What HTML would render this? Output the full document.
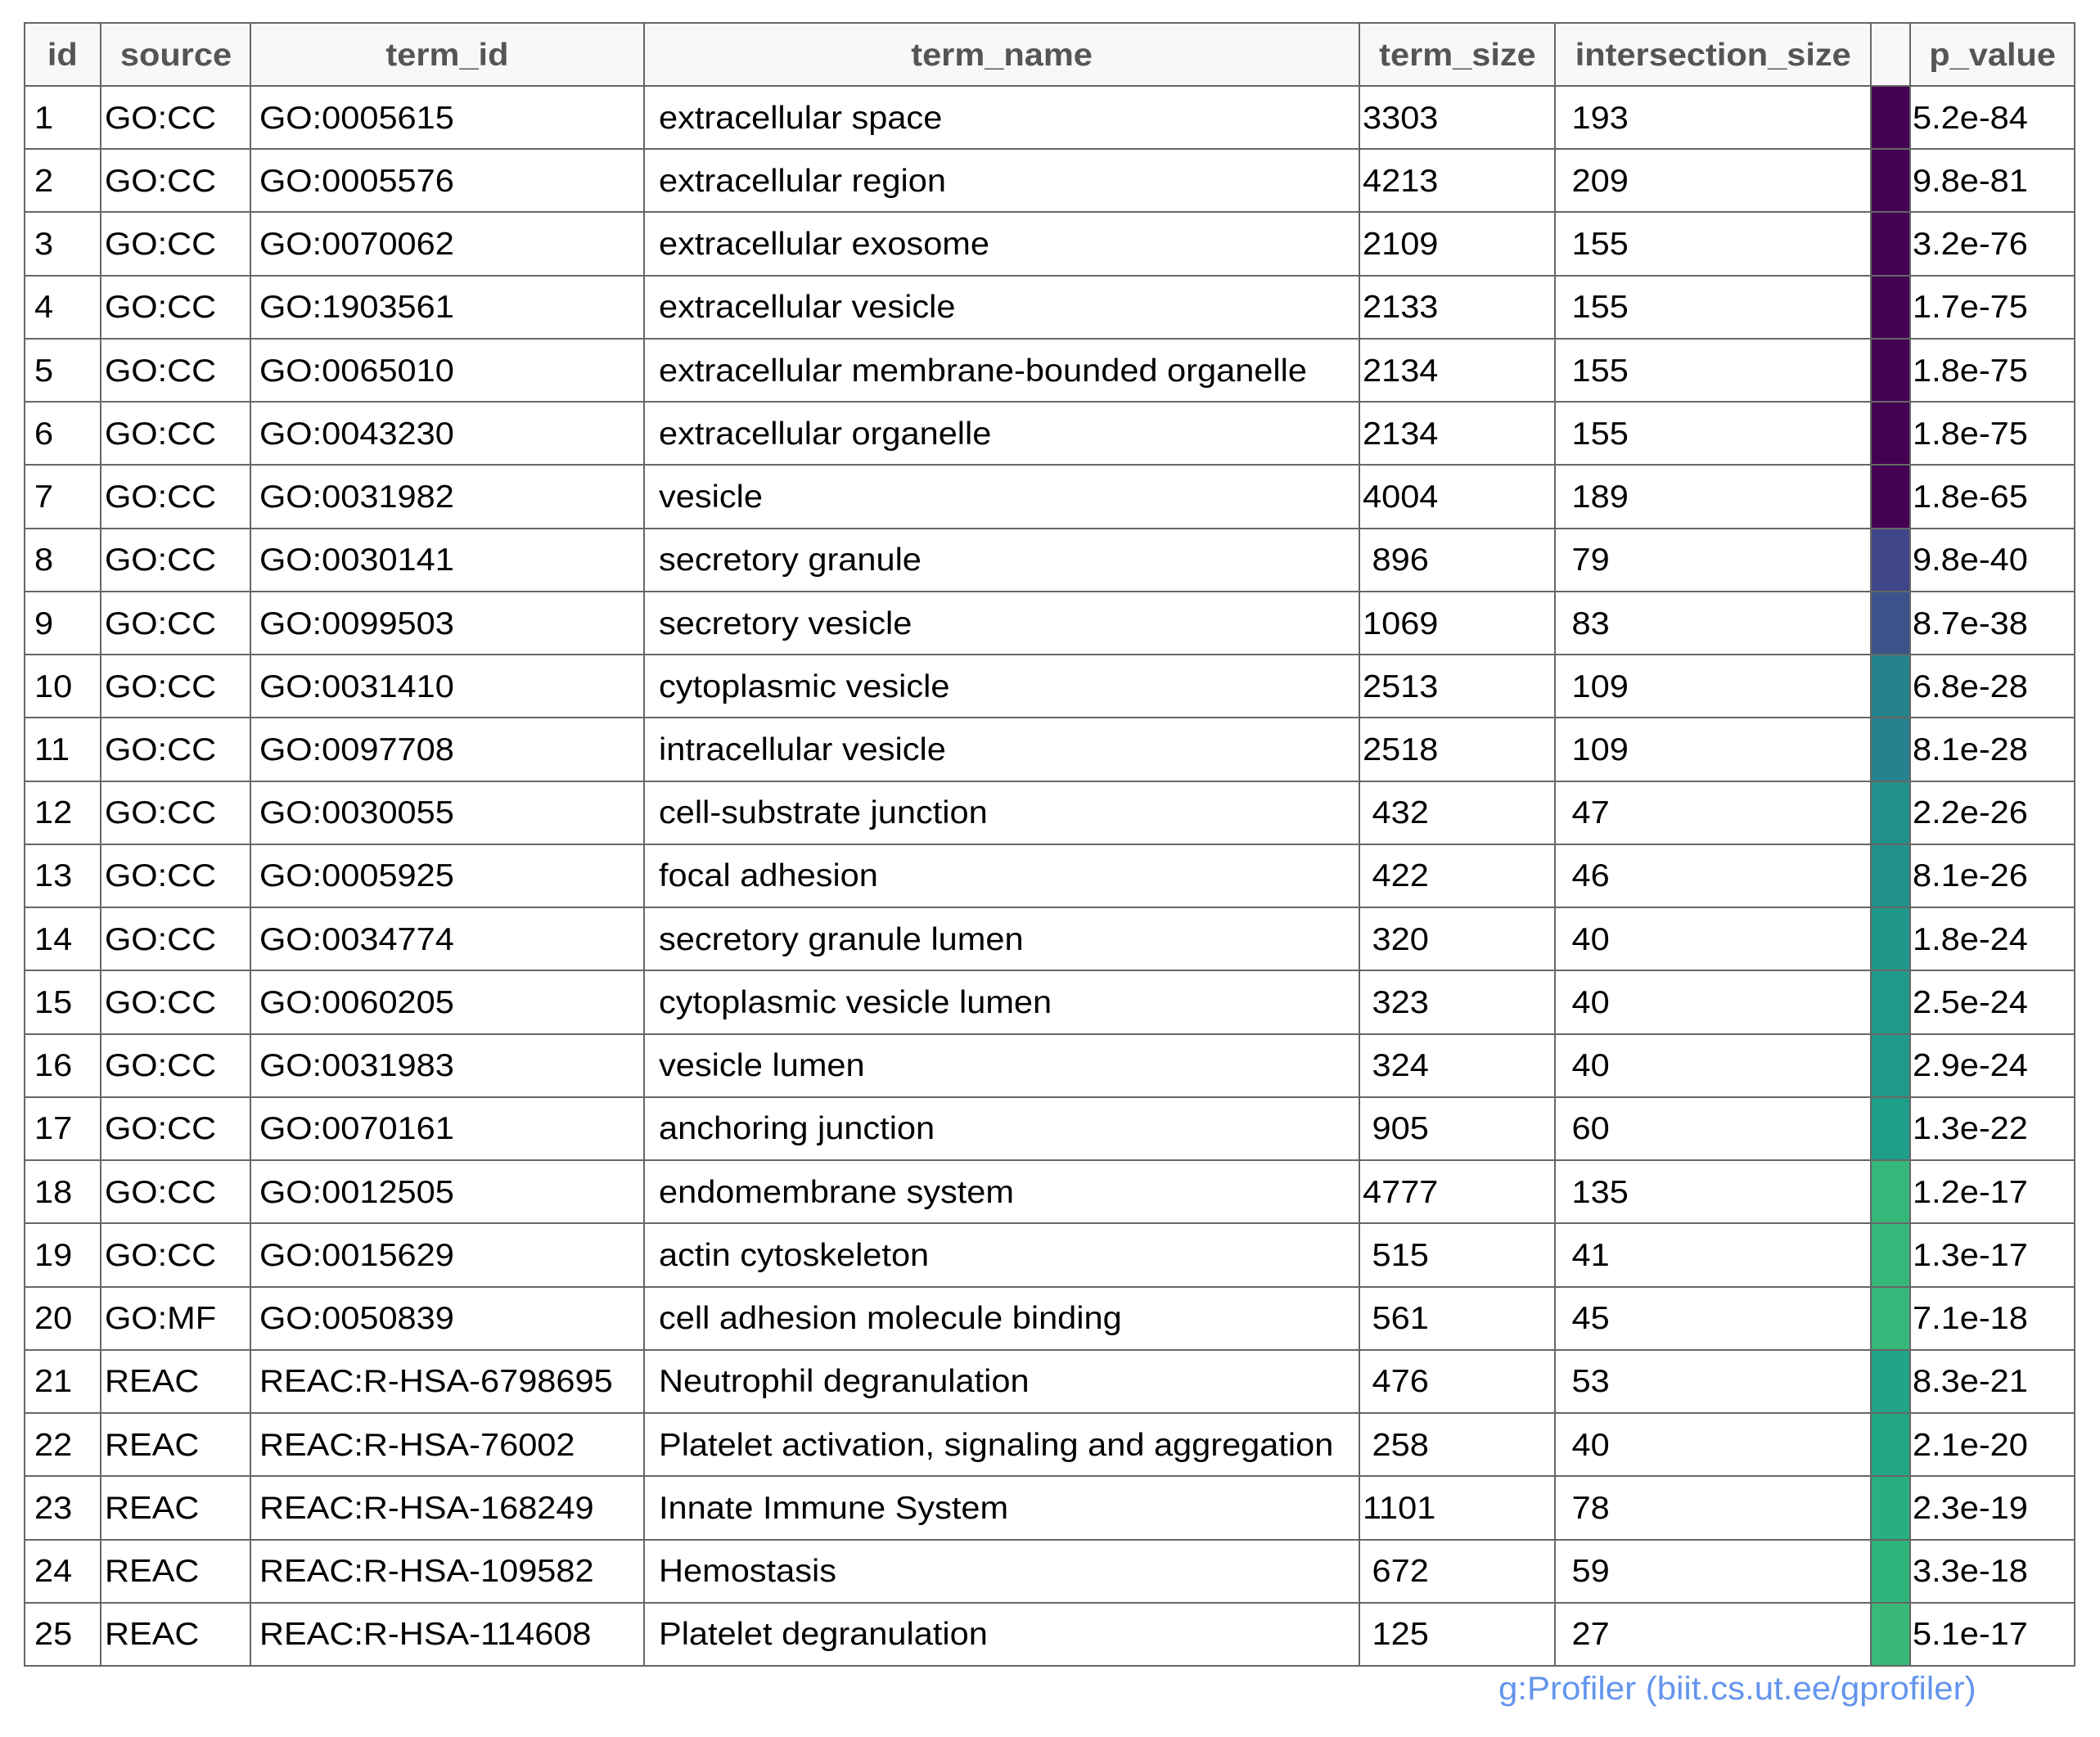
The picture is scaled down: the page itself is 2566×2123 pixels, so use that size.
<!DOCTYPE html>
<html><head><meta charset="utf-8">
<style>
html,body{margin:0;padding:0;background:#fff;}
body{width:2566px;height:2123px;position:relative;overflow:hidden;font-family:"Liberation Sans",sans-serif;}
.cell{position:absolute;box-sizing:border-box;font-size:39px;color:#000;white-space:pre;display:flex;align-items:center;overflow:visible;padding-top:2px;}
.cell span{display:inline-block;transform:scaleX(1.065);transform-origin:left center;}
.hdr{background:#f8f8f8;color:#555;font-weight:bold;justify-content:center;}
.hdr span{transform-origin:center center;}
.line{position:absolute;background:#666;}
#footer{position:absolute;left:1831px;top:2042px;font-size:40px;color:#6495ED;white-space:nowrap;transform:scaleX(1.05);transform-origin:left center;}
</style></head>
<body>
<div id="table" style="position:absolute;left:0;top:0;width:2566px;height:2123px;"></div>
<div id="footer">g:Profiler (biit.cs.ut.ee/gprofiler)</div>
<script>
const headers=["id","source","term_id","term_name","term_size","intersection_size","","p_value"];
const sources=["GO:CC","GO:CC","GO:CC","GO:CC","GO:CC","GO:CC","GO:CC","GO:CC","GO:CC","GO:CC","GO:CC","GO:CC","GO:CC","GO:CC","GO:CC","GO:CC","GO:CC","GO:CC","GO:CC","GO:MF","REAC","REAC","REAC","REAC","REAC"];
const termIds=["GO:0005615","GO:0005576","GO:0070062","GO:1903561","GO:0065010","GO:0043230","GO:0031982","GO:0030141","GO:0099503","GO:0031410","GO:0097708","GO:0030055","GO:0005925","GO:0034774","GO:0060205","GO:0031983","GO:0070161","GO:0012505","GO:0015629","GO:0050839","REAC:R-HSA-6798695","REAC:R-HSA-76002","REAC:R-HSA-168249","REAC:R-HSA-109582","REAC:R-HSA-114608"];
const termNames=["extracellular space","extracellular region","extracellular exosome","extracellular vesicle","extracellular membrane-bounded organelle","extracellular organelle","vesicle","secretory granule","secretory vesicle","cytoplasmic vesicle","intracellular vesicle","cell-substrate junction","focal adhesion","secretory granule lumen","cytoplasmic vesicle lumen","vesicle lumen","anchoring junction","endomembrane system","actin cytoskeleton","cell adhesion molecule binding","Neutrophil degranulation","Platelet activation, signaling and aggregation","Innate Immune System","Hemostasis","Platelet degranulation"];
const termSizes=[3303,4213,2109,2133,2134,2134,4004,896,1069,2513,2518,432,422,320,323,324,905,4777,515,561,476,258,1101,672,125];
const interSizes=[193,209,155,155,155,155,189,79,83,109,109,47,46,40,40,40,60,135,41,45,53,40,78,59,27];
const pValues=["5.2e-84","9.8e-81","3.2e-76","1.7e-75","1.8e-75","1.8e-75","1.8e-65","9.8e-40","8.7e-38","6.8e-28","8.1e-28","2.2e-26","8.1e-26","1.8e-24","2.5e-24","2.9e-24","1.3e-22","1.2e-17","1.3e-17","7.1e-18","8.3e-21","2.1e-20","2.3e-19","3.3e-18","5.1e-17"];
const colors=["#440154","#440154","#440154","#440154","#440154","#440154","#440154","#3f4788","#3b528b","#25838e","#26828e","#21908c","#21918c","#1f988b","#1f998a","#1f998a","#1f9e89","#35b779","#35b779","#35b779","#20a386","#22a785","#29af7f","#2fb47c","#38b977"];

const colX=[30,123,306,787,1661,1900,2286,2334,2535];
const padL=[12,5,11,18,4,9,0,3];
const top0=28, hdrH=77, rowH=77.24;
const table=document.getElementById('table');
function pad(v){const s=String(v);return s.length<4?" "+s:s;}
function mk(x0,x1,y0,h,text,cls,pl){
  const d=document.createElement('div');
  d.className='cell'+(cls?' '+cls:'');
  d.style.left=x0+'px';d.style.top=y0+'px';
  d.style.width=(x1-x0)+'px';d.style.height=h+'px';
  d.style.paddingLeft=(pl||0)+'px';
  const s=document.createElement('span');
  s.textContent=text;
  d.appendChild(s);
  table.appendChild(d);
  return d;
}
headers.forEach((h,i)=>{
  const d=mk(colX[i],colX[i+1],top0,hdrH,h,'hdr',0);
  
  
});
for(let r=0;r<25;r++){
  const y=top0+hdrH+r*rowH;
  const vals=[String(r+1),sources[r],termIds[r],termNames[r],pad(termSizes[r]),pad(interSizes[r]),"",pValues[r]];
  const names=['id','source','term-id','term-name','term-size','intersection-size','pvalue-color','p-value'];
  vals.forEach((v,i)=>{
    const d=mk(colX[i],colX[i+1],y,rowH,v,'',padL[i]);
    if(i===6){d.style.background=colors[r];}
    
    
  });
}
const bottom=top0+hdrH+25*rowH;
colX.forEach((x,i)=>{
  const l=document.createElement('div');
  l.className='line';
  
  
  l.style.left=(x-1)+'px';l.style.top=(top0-1)+'px';l.style.width='2px';l.style.height=(bottom-top0+2)+'px';
  table.appendChild(l);
});
for(let r=0;r<=26;r++){
  const y=r===0?top0:top0+hdrH+(r-1)*rowH;
  const l=document.createElement('div');
  l.className='line';
  
  
  l.style.left=(colX[0]-1)+'px';l.style.top=(y-1)+'px';l.style.height='2px';l.style.width=(colX[8]-colX[0]+2)+'px';
  table.appendChild(l);
}
</script>
</body></html>
